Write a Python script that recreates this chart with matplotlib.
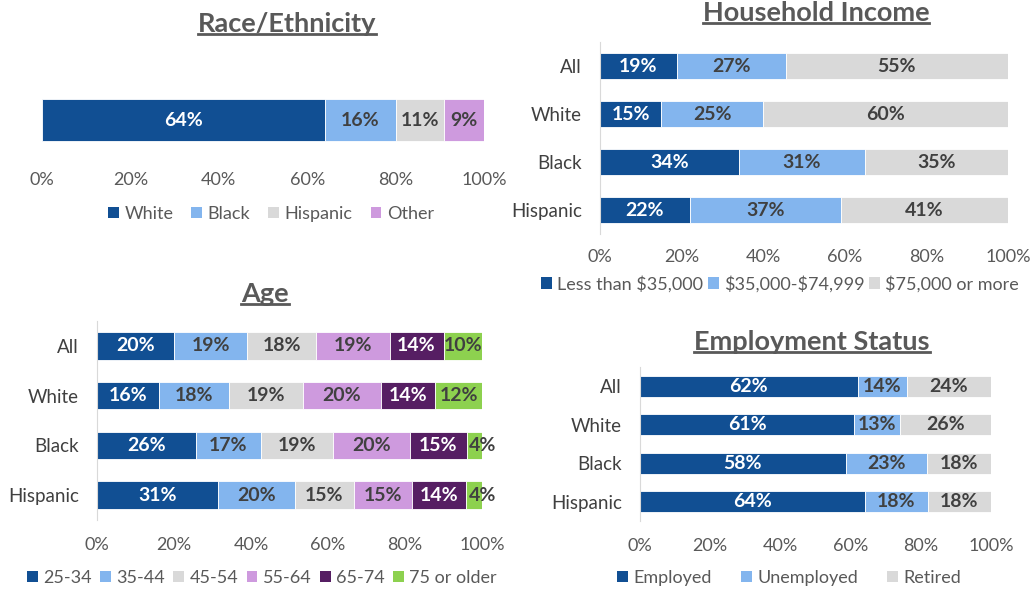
import matplotlib
matplotlib.use('Agg')
import matplotlib.pyplot as plt
from matplotlib.lines import Line2D
from matplotlib.patches import Patch
import numpy as np

plt.rcParams['font.family'] = ['Lato', 'DejaVu Sans']
plt.rcParams['text.parse_math'] = False

# colours
DARK_BLUE = '#114f93'
LIGHT_BLUE = '#83b5ee'
GRAY = '#d9d9d9'
LILAC = '#ce9ade'
PURPLE = '#561e63'
GREEN = '#8dd14f'
TEXT = '#595959'
LABEL_DARK = '#404040'

# data
race_labels = ['White', 'Black', 'Hispanic', 'Other']
race_values = [64, 16, 11, 9]

groups = ['All', 'White', 'Black', 'Hispanic']

income_labels = ['Less than $35,000', '$35,000-$74,999', '$75,000 or more']
income_values = [
    [19, 15, 34, 22],
    [27, 25, 31, 37],
    [55, 60, 35, 41],
]

age_labels = ['25-34', '35-44', '45-54', '55-64', '65-74', '75 or older']
age_values = [
    [20, 16, 26, 31],
    [19, 18, 17, 20],
    [18, 19, 19, 15],
    [19, 20, 20, 15],
    [14, 14, 15, 14],
    [10, 12, 4, 4],
]

emp_labels = ['Employed', 'Unemployed', 'Retired']
emp_values = [
    [62, 61, 58, 64],
    [14, 13, 23, 18],
    [24, 26, 18, 18],
]

W, H = 1032, 592
fig = plt.figure(figsize=(W / 100, H / 100), dpi=100)


def px_axes(x0, y0, x1, y1):
    return fig.add_axes([x0 / W, 1 - y1 / H, (x1 - x0) / W, (y1 - y0) / H])


def stacked(ax, cats, series, colors, bar_h, tick_pad, show_spine=True):
    n = len(cats)
    y = np.arange(n)
    vals_all = np.array(series, dtype=float)
    # rounded shares don't always add to 100, the bars are drawn as 100% stacked
    shares = vals_all / vals_all.sum(axis=0) * 100
    left = np.zeros(n)
    for vals, share, c in zip(vals_all, shares, colors):
        ax.barh(y, share, left=left, height=bar_h, color=c, edgecolor='white', linewidth=0.6)
        txt_c = 'white' if c in (DARK_BLUE, PURPLE) else LABEL_DARK
        for yi, v, s, l in zip(y, vals, share, left):
            xoff = 6 if v < 5 else 0
            ax.annotate(f'{v:.0f}%', (l + s / 2, yi), xytext=(xoff, 0), textcoords='offset points',
                        ha='center', va='center', color=txt_c, fontsize=14, fontweight='bold')
        left += share
    ax.set_xlim(0, 100)
    ax.set_ylim(n - 0.5, -0.5)
    ax.set_yticks(y)
    ax.set_yticklabels(cats)
    ax.set_xticks([0, 20, 40, 60, 80, 100])
    ax.set_xticklabels([f'{t}%' for t in [0, 20, 40, 60, 80, 100]])
    ax.tick_params(axis='x', length=0, pad=tick_pad, labelsize=13, labelcolor=TEXT)
    ax.tick_params(axis='y', length=0, pad=13, labelsize=13.5, labelcolor=LABEL_DARK)
    for s in ['top', 'right', 'bottom']:
        ax.spines[s].set_visible(False)
    ax.spines['left'].set_color(GRAY)
    ax.spines['left'].set_visible(show_spine)
    ax.set_facecolor('none')


def legend(labels, colors, cx, cy, spacing=1.0):
    handles = [Patch(facecolor=c, edgecolor='none') for c in colors]
    fig.legend(handles, labels, loc='center', bbox_to_anchor=(cx / W, 1 - cy / H), ncol=len(labels),
               frameon=False, handlelength=0.6, handleheight=0.6, handletextpad=0.3,
               columnspacing=spacing, fontsize=13, labelcolor=TEXT)


titles = []


def title(text, cx, cy):
    t = fig.text(cx / W, 1 - cy / H, text, ha='center', va='center', fontsize=19.5,
                 fontweight='bold', color=TEXT)
    titles.append(t)


# Race / Ethnicity
ax1 = px_axes(42, 85, 484, 155)
stacked(ax1, [''], [[v] for v in race_values], [DARK_BLUE, LIGHT_BLUE, GRAY, LILAC], 0.6, 12, show_spine=False)
ax1.set_yticks([])
legend(race_labels, [DARK_BLUE, LIGHT_BLUE, GRAY, LILAC], 271, 214)
title('Race/Ethnicity', 287, 24)

# Household income
ax2 = px_axes(600, 42, 1008, 234)
stacked(ax2, groups, income_values, [DARK_BLUE, LIGHT_BLUE, GRAY], 0.54, 11)
legend(income_labels, [DARK_BLUE, LIGHT_BLUE, GRAY], 780, 284, spacing=0.25)
title('Household Income', 816, 13)

# Age
ax3 = px_axes(97, 321, 482, 520)
stacked(ax3, groups, age_values, [DARK_BLUE, LIGHT_BLUE, GRAY, LILAC, PURPLE, GREEN], 0.55, 12)
legend(age_labels, [DARK_BLUE, LIGHT_BLUE, GRAY, LILAC, PURPLE, GREEN], 262, 578, spacing=0.45)
title('Age', 265, 294)

# Employment status
ax4 = px_axes(640, 367, 991, 521)
stacked(ax4, groups, emp_values, [DARK_BLUE, LIGHT_BLUE, GRAY], 0.54, 12)
legend(emp_labels, [DARK_BLUE, LIGHT_BLUE, GRAY], 789, 578, spacing=1.6)
title('Employment Status', 812, 342)

# underline titles
fig.canvas.draw()
r = fig.canvas.get_renderer()
for t in titles:
    bb = t.get_window_extent(r).transformed(fig.transFigure.inverted())
    yl = bb.y0 + 0.003
    fig.add_artist(Line2D([bb.x0, bb.x1], [yl, yl], transform=fig.transFigure, color=TEXT, linewidth=2))

fig.savefig('out.png', dpi=100)
